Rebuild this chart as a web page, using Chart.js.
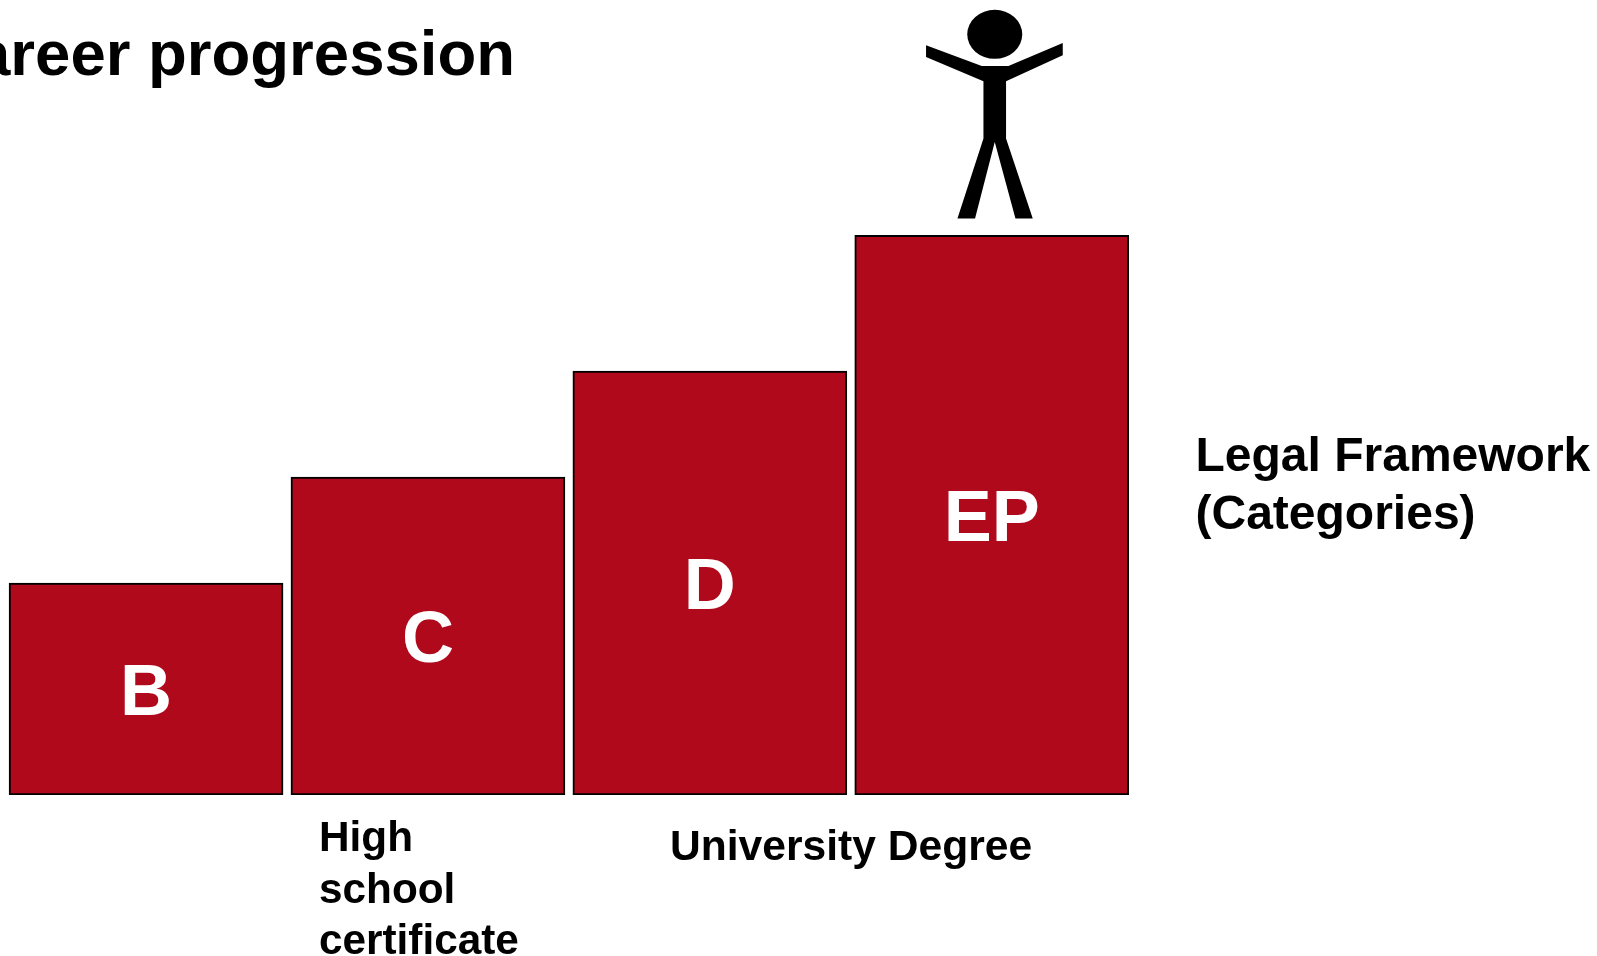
<!DOCTYPE html>
<html>
<head>
<meta charset="utf-8">
<title>Career progression</title>
<script src="https://cdn.jsdelivr.net/npm/chart.js@4/dist/chart.umd.min.js"></script>
<style>
    html, body { margin: 0; padding: 0; background: #fff; overflow: hidden; }
    canvas { display: block; }
</style>
</head>
<body>
<canvas id="chart" width="1597" height="956"></canvas>
<script>
    var categories = ['B', 'C', 'D', 'EP']
    var levels = [2, 3, 4, 5.28]
    var titleText = 'Career progression'
    var frameworkLines = ['Legal Framework', '(Categories)']
    var schoolLines = ['High', 'school', 'certificate']
    var degreeLines = ['University Degree']

    var FONT = '"Liberation Sans", Arial, sans-serif'

    function drawLines(ctx, lines, x, y, lineHeight, size) {
        ctx.font = 'bold ' + size + 'px ' + FONT
        ctx.fillStyle = '#000'
        ctx.textBaseline = 'alphabetic'
        lines.forEach(function (line, i) {
            ctx.fillText(line, x, y + i * lineHeight)
        })
    }

    // letter inside each bar, centred on the bar itself
    var barLetters = {
        id: 'barLetters',
        afterDatasetsDraw: function (chart) {
            var ctx = chart.ctx
            ctx.save()
            ctx.font = 'bold 72px ' + FONT
            ctx.fillStyle = '#fff'
            ctx.textAlign = 'center'
            ctx.textBaseline = 'alphabetic'
            chart.getDatasetMeta(0).data.forEach(function (bar, i) {
                var middle = (bar.y + bar.base) / 2
                ctx.fillText(categories[i], bar.x, middle + 26)
            })
            ctx.restore()
        }
    }

    // stick figure standing on the tallest bar
    var stickFigure = {
        id: 'stickFigure',
        afterDatasetsDraw: function (chart) {
            var bars = chart.getDatasetMeta(0).data
            var top = bars[bars.length - 1]
            var ctx = chart.ctx
            var outline = [
                [-68.7, -190], [-13, -169.3], [13.7, -169.3], [68, -192.3],
                [68, -180], [11.3, -154], [11.3, -96.7], [38, -16.7],
                [20.7, -16.7], [0, -93.3], [-19.7, -16.7], [-37.3, -16.7],
                [-11.3, -96.7], [-11.3, -154], [-68.7, -178.3]
            ]
            ctx.save()
            ctx.translate(top.x + 3, top.y)
            ctx.fillStyle = '#000'
            ctx.beginPath()
            ctx.ellipse(0, -201, 27.5, 24.5, 0, 0, Math.PI * 2)
            ctx.fill()
            ctx.beginPath()
            outline.forEach(function (p, i) {
                if (i === 0) ctx.moveTo(p[0], p[1])
                else ctx.lineTo(p[0], p[1])
            })
            ctx.closePath()
            ctx.fill()
            ctx.restore()
        }
    }

    // title runs off the left edge, so it is anchored on its right end
    var annotations = {
        id: 'annotations',
        afterDraw: function (chart) {
            var ctx = chart.ctx
            ctx.save()
            ctx.textAlign = 'right'
            drawLines(ctx, [titleText], 515, 75, 0, 63.5)
            ctx.textAlign = 'left'
            drawLines(ctx, frameworkLines, 1195.5, 471, 58, 48)
            drawLines(ctx, schoolLines, 319, 851, 51.5, 42.3)
            drawLines(ctx, degreeLines, 670, 860, 0, 42.6)
            ctx.restore()
        }
    }

    var chart = document.getElementById('chart').getContext('2d')

    var newchart = new Chart(chart, {
        type: 'bar',
        data: {
            labels: categories,
            datasets: [{
                data: levels,
                backgroundColor: '#b0091c',
                borderColor: '#000',
                borderWidth: 2,
                borderSkipped: false,
                barThickness: 274
            }]
        },
        options: {
            responsive: false,
            animation: false,
            layout: { padding: { left: 5.1, right: 464.3, top: 0, bottom: 161 } },
            plugins: { legend: { display: false }, tooltip: { enabled: false } },
            scales: {
                x: { display: false },
                y: { display: false, min: 0, max: 7.5 }
            }
        },
        plugins: [barLetters, stickFigure, annotations]
    })
</script>
</body>
</html>
